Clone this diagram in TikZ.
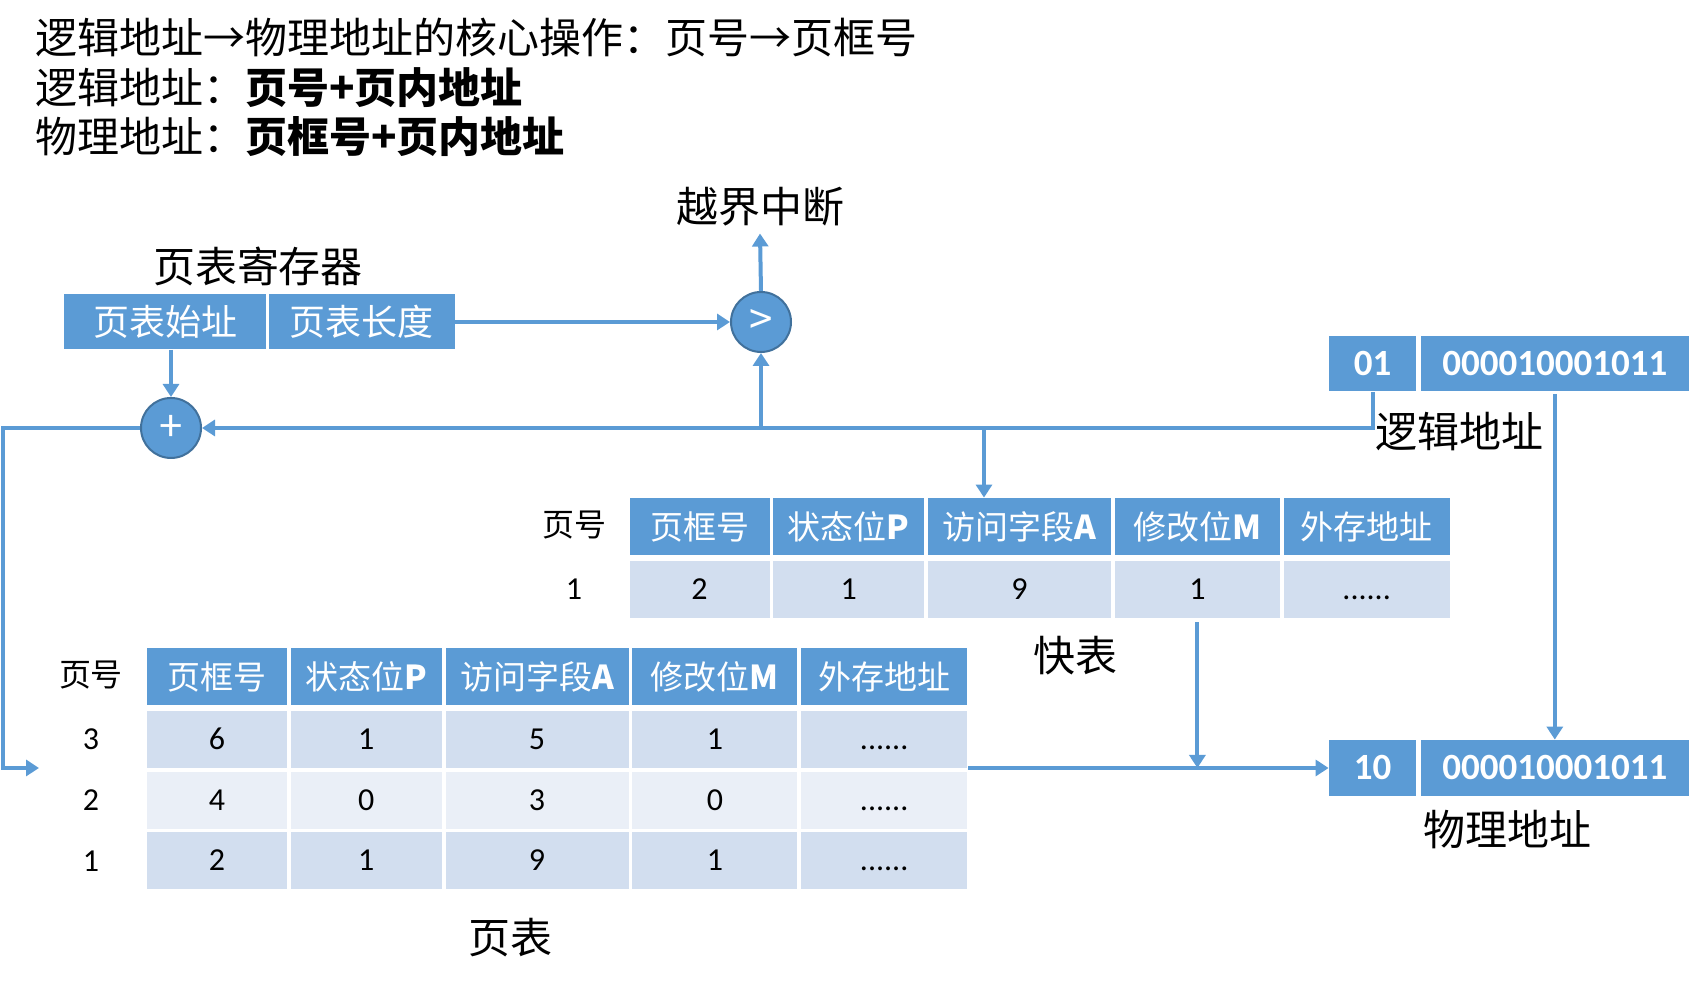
\documentclass[tikz,border=0pt]{standalone}
\usepackage{fontspec}
\setmainfont{Noto Sans CJK SC}
\newfontfamily\numfont{Carlito}
\usepackage{xcolor}
\usepackage{tikz}
\usetikzlibrary{positioning, arrows.meta}

\definecolor{hdblue}{HTML}{5B9BD5}
\definecolor{ringblue}{HTML}{41719C}
\definecolor{rowdark}{HTML}{D2DEEF}
\definecolor{rowlight}{HTML}{EAEFF7}

\begin{document}
\begin{tikzpicture}[x=0.5pt, y=0.5pt]
            % Block styles
            \tikzstyle{hcell} = [rectangle, fill=hdblue, text=white, inner sep=0pt, minimum height=28.5pt, font=\fontsize{16.5}{18}\selectfont]
            \tikzstyle{rowa} = [rectangle, fill=rowdark, inner sep=0pt, minimum height=28.5pt, text height=10pt, text depth=0pt, font=\numfont\fontsize{16}{18}\selectfont]
            \tikzstyle{rowb} = [rowa, fill=rowlight]
            \tikzstyle{c1} = [minimum width=70pt]
            \tikzstyle{c2} = [minimum width=75.5pt]
            \tikzstyle{c3} = [minimum width=91.5pt]
            \tikzstyle{c4} = [minimum width=82.5pt]
            \tikzstyle{c5} = [minimum width=83pt]
            \tikzstyle{reg} = [rectangle, fill=hdblue, text=white, inner sep=0pt, minimum height=27.5pt, font=\fontsize{18}{20}\selectfont]
            \tikzstyle{addr} = [rectangle, fill=hdblue, text=white, inner sep=0pt, minimum height=27.5pt, font=\numfont\bfseries\fontsize{18.5}{20}\selectfont]
            \tikzstyle{op} = [circle, fill=hdblue, draw=ringblue, line width=1pt, minimum size=30pt, inner sep=0pt, text=white, font=\fontsize{21}{21}\selectfont]
            \tikzstyle{lbl} = [font=\fontsize{21}{24}\selectfont]
            \tikzstyle{idx} = [font=\fontsize{16}{18}\selectfont]
            \tikzstyle{flow} = [draw=hdblue, line width=2pt, -{Triangle[length=6.5pt, width=8pt]}]

            \useasboundingbox (0,0) rectangle (1694,988);

            % Title lines
            \node[lbl, anchor=base west, inner sep=0pt] (title1) at (35,934) {逻辑地址→物理地址的核心操作：页号→页框号};
            \node[lbl, anchor=base west, inner sep=0pt] (title2) at (35,884) {逻辑地址：\textbf{页号+页内地址}};
            \node[lbl, anchor=base west, inner sep=0pt] (title3) at (35,835) {物理地址：\textbf{页框号+页内地址}};

            % Page table register
            \node[reg, minimum width=101pt] (reg_base) at (165,666) {页表始址};
            \node[reg, minimum width=93pt, right=1pt of reg_base] (reg_len) {页表长度};
            \node[lbl] (reg_title) at (258,722) {页表寄存器};

            % Comparator and adder
            \node[op] (cmp) at (761,666) {>};
            \node[lbl] (intr) at (760,781) {越界中断};
            \node[op] (add) at (171,560) {+};

            % Logical address
            \node[addr, minimum width=43.5pt] (la_page) at (1372.5,624) {01};
            \node[addr, minimum width=134pt, right=2pt of la_page] (la_off) {000010001011};
            \node[lbl] (la_title) at (1459,556) {逻辑地址};

            % Physical address
            \node[addr, minimum width=43.5pt, minimum height=28pt] (pa_frame) at (1372.5,220) {10};
            \node[addr, minimum width=134pt, minimum height=28pt, right=2pt of pa_frame] (pa_off) {000010001011};
            \node[lbl] (pa_title) at (1507,158) {物理地址};

            % Fast table
            \node[hcell, c1] (tlb_h1) at (699.5,461.5) {页框号};
            \node[hcell, c2, right=1.5pt of tlb_h1] (tlb_h2) {状态位\textbf{P}};
            \node[hcell, c3, right=1.5pt of tlb_h2] (tlb_h3) {访问字段\textbf{A}};
            \node[hcell, c4, right=1.5pt of tlb_h3] (tlb_h4) {修改位\textbf{M}};
            \node[hcell, c5, right=1.5pt of tlb_h4] (tlb_h5) {外存地址};
            \node[rowa, c1, below=2.5pt of tlb_h1] (tlb_r1c1) {2};
            \node[rowa, c2, right=1.5pt of tlb_r1c1] (tlb_r1c2) {1};
            \node[rowa, c3, right=1.5pt of tlb_r1c2] (tlb_r1c3) {9};
            \node[rowa, c4, right=1.5pt of tlb_r1c3] (tlb_r1c4) {1};
            \node[rowa, c5, right=1.5pt of tlb_r1c4] (tlb_r1c5) {......};
            \node[idx] (tlb_no) at (574,463) {页号};
            \node[idx] (tlb_n1) at (tlb_no |- tlb_r1c1) {\numfont 1};
            \node[lbl] (tlb_title) at (1075,332) {快表};

            % Page table
            \node[hcell, c1] (pt_h1) at (217,311.5) {页框号};
            \node[hcell, c2, right=1.5pt of pt_h1] (pt_h2) {状态位\textbf{P}};
            \node[hcell, c3, right=1.5pt of pt_h2] (pt_h3) {访问字段\textbf{A}};
            \node[hcell, c4, right=1.5pt of pt_h3] (pt_h4) {修改位\textbf{M}};
            \node[hcell, c5, right=1.5pt of pt_h4] (pt_h5) {外存地址};
            \node[rowa, c1, below=2.5pt of pt_h1] (pt_r1c1) {6};
            \node[rowa, c2, right=1.5pt of pt_r1c1] (pt_r1c2) {1};
            \node[rowa, c3, right=1.5pt of pt_r1c2] (pt_r1c3) {5};
            \node[rowa, c4, right=1.5pt of pt_r1c3] (pt_r1c4) {1};
            \node[rowa, c5, right=1.5pt of pt_r1c4] (pt_r1c5) {......};
            \node[rowb, c1, below=1.5pt of pt_r1c1] (pt_r2c1) {4};
            \node[rowb, c2, right=1.5pt of pt_r2c1] (pt_r2c2) {0};
            \node[rowb, c3, right=1.5pt of pt_r2c2] (pt_r2c3) {3};
            \node[rowb, c4, right=1.5pt of pt_r2c3] (pt_r2c4) {0};
            \node[rowb, c5, right=1.5pt of pt_r2c4] (pt_r2c5) {......};
            \node[rowa, c1, below=1.5pt of pt_r2c1] (pt_r3c1) {2};
            \node[rowa, c2, right=1.5pt of pt_r3c1] (pt_r3c2) {1};
            \node[rowa, c3, right=1.5pt of pt_r3c2] (pt_r3c3) {9};
            \node[rowa, c4, right=1.5pt of pt_r3c3] (pt_r3c4) {1};
            \node[rowa, c5, right=1.5pt of pt_r3c4] (pt_r3c5) {......};
            \node[idx] (pt_no) at (91,313) {页号};
            \node[idx] (pt_n3) at (pt_no |- pt_r1c1) {\numfont 3};
            \node[idx] (pt_n2) at (pt_no |- pt_r2c1) {\numfont 2};
            \node[idx] (pt_n1) at (pt_no |- pt_r3c1) {\numfont 1};
            \node[lbl] (pt_title) at (510,50) {页表};

            % Connections
            \coordinate (bend) at (3,560);
            \coordinate (pt_in) at (39,220);
            \coordinate (pt_out) at (968,220);
            \coordinate (tlb_in) at (984,560);
            \draw[flow] (reg_base.south -| add) -- (add.north);
            \draw[flow] (reg_len.east) -- (cmp.west);
            \draw[flow] (cmp.north) -- (intr.south);
            \draw[flow] (la_page.south) |- (add.east);
            \draw[flow] (cmp |- add) -- (cmp.south);
            \draw[flow] (tlb_in) -- (tlb_in |- tlb_h1.north);
            \draw[flow] (add.west) -- (bend) |- (pt_in);
            \draw[flow] ([yshift=-2pt]tlb_r1c4.south) -- (tlb_r1c4.south |- pt_out);
            \draw[flow] (pt_out) -- (pa_frame.west);
            \draw[flow] ([yshift=-1pt]la_off.south) -- (pa_off.north);
\end{tikzpicture}
\end{document}
